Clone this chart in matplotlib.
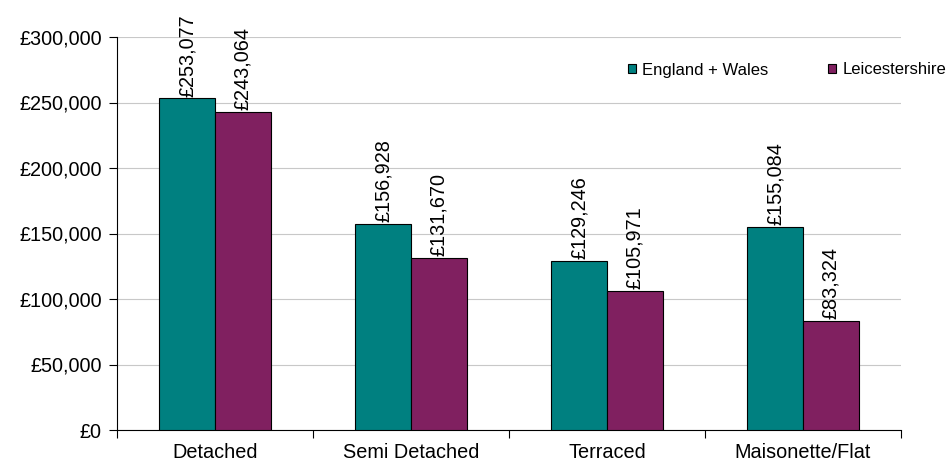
import matplotlib
matplotlib.use("Agg")
import matplotlib.pyplot as plt
import numpy as np
from matplotlib.ticker import FuncFormatter

categories = ["Detached", "Semi Detached", "Terraced", "Maisonette/Flat"]
england_wales = [253077, 156928, 129246, 155084]
leicestershire = [243064, 131670, 105971, 83324]
series_names = ["England + Wales", "Leicestershire"]

plt.rcParams['font.family'] = ['Liberation Sans', 'DejaVu Sans']

fig = plt.figure(figsize=(9.51, 4.68), dpi=100)
ax = fig.add_axes([117/951, 1 - 430/468, (901-117)/951, (430-37)/468])

x = np.arange(len(categories))
w = 0.285
c1 = "#008080"
c2 = "#802060"
b1 = ax.bar(x - w/2, england_wales, w, color=c1, edgecolor="black", linewidth=0.8, label=series_names[0], zorder=3)
b2 = ax.bar(x + w/2, leicestershire, w, color=c2, edgecolor="black", linewidth=0.8, label=series_names[1], zorder=3)

fs = 14.3
for bars, vals in ((b1, england_wales), (b2, leicestershire)):
    for r, v in zip(bars, vals):
        ax.text(r.get_x() + r.get_width()/2, v + 1500, f"£{v:,}", rotation=90,
                ha="center", va="bottom", fontsize=fs, color="black")

ax.set_xlim(-0.5, len(categories) - 0.5)
ax.set_ylim(0, 300000)
ax.set_yticks(np.arange(0, 300001, 50000))
ax.yaxis.set_major_formatter(FuncFormatter(lambda v, p: f"£{int(v):,}"))
ax.set_xticks(x)
ax.set_xticklabels(categories, fontsize=fs)
ax.set_xticks(np.arange(-0.5, len(categories), 1), minor=True)
ax.tick_params(axis="x", which="major", length=0, pad=9)
ax.tick_params(axis="x", which="minor", length=6, direction="out", width=0.8)
ax.tick_params(axis="y", length=6, direction="out", width=0.8, labelsize=fs, pad=5)
ax.grid(axis="y", color="#c8c8c8", linewidth=0.8, zorder=0)
for s in ("top", "right"):
    ax.spines[s].set_visible(False)
for s in ("left", "bottom"):
    ax.spines[s].set_linewidth(0.8)

leg = fig.legend(handles=[b1, b2], labels=series_names, loc="center left",
                 bbox_to_anchor=(628/951, 1 - 70/468), ncol=2, frameon=False,
                 fontsize=12, handlelength=0.45, handleheight=0.45, handletextpad=0.4,
                 columnspacing=3.6, borderaxespad=0, borderpad=0)

fig.savefig("out.png", dpi=100)
